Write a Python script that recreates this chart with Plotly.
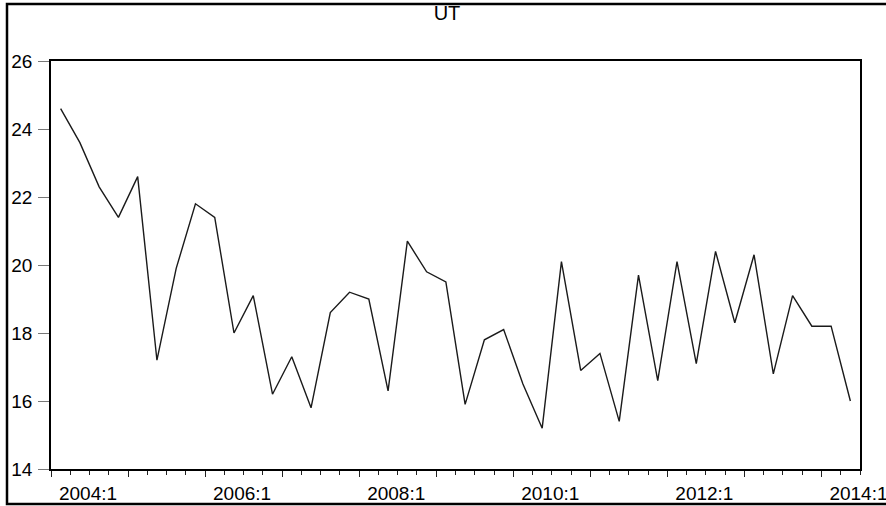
import plotly.graph_objects as go

# Quarterly series UT, 2004:1 through 2014:2
start_year = 2004
periods = [f"{start_year + q // 4}:{q % 4 + 1}" for q in range(42)]
ut = [24.6, 23.6, 22.3, 21.4, 22.6, 17.2, 19.9, 21.8, 21.4, 18.0,
      19.1, 16.2, 17.3, 15.8, 18.6, 19.2, 19.0, 16.3, 20.7, 19.8,
      19.5, 15.9, 17.8, 18.1, 16.5, 15.2, 20.1, 16.9, 17.4, 15.4,
      19.7, 16.6, 20.1, 17.1, 20.4, 18.3, 20.3, 16.8, 19.1, 18.2,
      18.2, 16.0]
y_ticks = [14, 16, 18, 20, 22, 24, 26]

n = len(ut)
# each observation sits in the middle of its quarter; ticks mark quarter boundaries
x_pos = list(range(n))
year_starts = [q - 0.5 for q in range(0, n + 1, 4)]
year_labels = []
for q in range(0, n + 1, 4):
    yr = start_year + q // 4
    year_labels.append(f"{yr}:1" if yr % 2 == 0 else "")

fig = go.Figure()
fig.add_trace(go.Scatter(
    x=x_pos, y=ut, mode="lines",
    line=dict(color="#1a1a1a", width=1.4),
    customdata=periods,
    hovertemplate="%{customdata}: %{y}<extra></extra>",
    showlegend=False,
))

font = dict(family="Liberation Sans, Arial, sans-serif", color="#000000")

fig.update_layout(
    width=886, height=506,
    margin=dict(l=51, r=26, t=61, b=37, autoexpand=False),
    paper_bgcolor="white", plot_bgcolor="white",
    title=dict(text="UT", x=447 / 886, xanchor="center",
               y=1 - 13 / 506, yanchor="middle", automargin=False,
               font=dict(size=20, **font)),
    xaxis=dict(
        range=[-0.5, n - 0.5], automargin=False,
        tickmode="array", tickvals=year_starts, ticktext=year_labels,
        ticks="outside", ticklen=6, tickwidth=1, tickcolor="#222222",
        ticklabelshift=37, ticklabeloverflow="allow",
        minor=dict(tickmode="linear", tick0=-0.5, dtick=1,
                   ticks="outside", ticklen=4, tickwidth=1, tickcolor="#222222"),
        showgrid=False, zeroline=False,
        showline=True, linecolor="#000000", linewidth=1.5, mirror=True,
        tickfont=dict(size=19, **font),
    ),
    yaxis=dict(
        range=[14, 26], automargin=False,
        tickmode="array", tickvals=y_ticks,
        ticks="outside", ticklen=11, tickwidth=1, tickcolor="#777777",
        ticklabelstandoff=2,
        showgrid=False, zeroline=False,
        showline=True, linecolor="#000000", linewidth=1.5, mirror=True,
        tickfont=dict(size=19, **font),
    ),
    shapes=[dict(
        type="rect", xref="paper", yref="paper",
        x0=(7 - 51) / 809, x1=(960 - 51) / 809,
        y0=(469 - 504) / 408, y1=(469 - 4) / 408,
        line=dict(color="#000000", width=2.5), layer="below",
    )],
)

fig.write_html("out.html")
